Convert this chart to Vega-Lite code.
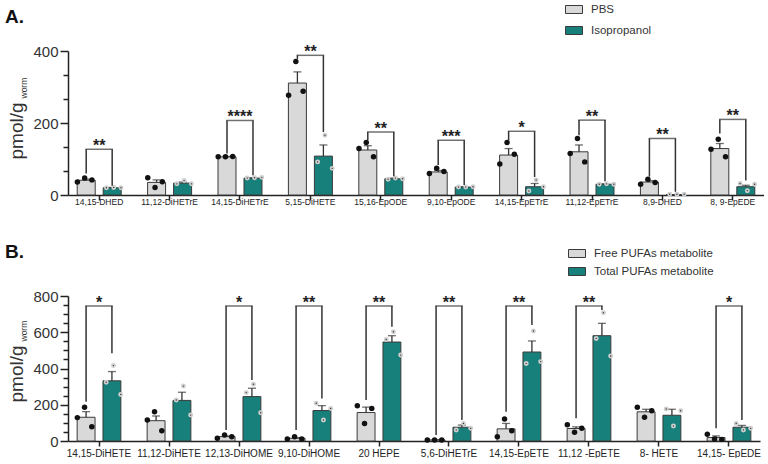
{
"$schema": "https://vega.github.io/schema/vega-lite/v6.json",
"padding": {"left": 5, "top": 0, "right": 0, "bottom": 0},
"config": {"font": "Liberation Sans", "view": {"stroke": null},
  "axis": {"domainColor": "#222", "domainWidth": 1.5, "tickColor": "#222", "tickWidth": 1.5, "labelColor": "#222", "grid": false},
  "title": {"color": "#111"}},
"datasets": {
"barsA": [
{"cat":"14,15-DHED","group":"PBS","mean":41,"err":44},
{"cat":"14,15-DHED","group":"Isopropanol","mean":20,"err":21},
{"cat":"11,12-DiHETrE","group":"PBS","mean":35,"err":42},
{"cat":"11,12-DiHETrE","group":"Isopropanol","mean":33,"err":36},
{"cat":"14,15-DiHETrE","group":"PBS","mean":106,"err":107},
{"cat":"14,15-DiHETrE","group":"Isopropanol","mean":47,"err":48},
{"cat":"5,15-DiHETE","group":"PBS","mean":311,"err":342},
{"cat":"5,15-DiHETE","group":"Isopropanol","mean":108,"err":139},
{"cat":"15,16-EpODE","group":"PBS","mean":125,"err":137},
{"cat":"15,16-EpODE","group":"Isopropanol","mean":45,"err":47},
{"cat":"9,10-EpODE","group":"PBS","mean":64,"err":68},
{"cat":"9,10-EpODE","group":"Isopropanol","mean":22,"err":23},
{"cat":"14,15-EpETrE","group":"PBS","mean":111,"err":129},
{"cat":"14,15-EpETrE","group":"Isopropanol","mean":23,"err":32},
{"cat":"11,12-EpETrE","group":"PBS","mean":120,"err":139},
{"cat":"11,12-EpETrE","group":"Isopropanol","mean":30,"err":31},
{"cat":"8,9-DHED","group":"PBS","mean":36,"err":40},
{"cat":"8,9-DHED","group":"Isopropanol","mean":1,"err":1},
{"cat":"8, 9-EpEDE","group":"PBS","mean":129,"err":143},
{"cat":"8, 9-EpEDE","group":"Isopropanol","mean":23,"err":27}
],
"dotsA": [
{"cat":"14,15-DHED","group":"PBS","sample":"PBS 1","value":36},
{"cat":"14,15-DHED","group":"PBS","sample":"PBS 2","value":47},
{"cat":"14,15-DHED","group":"PBS","sample":"PBS 3","value":42},
{"cat":"14,15-DHED","group":"Isopropanol","sample":"Isopropanol 1","value":20},
{"cat":"14,15-DHED","group":"Isopropanol","sample":"Isopropanol 2","value":21},
{"cat":"14,15-DHED","group":"Isopropanol","sample":"Isopropanol 3","value":20},
{"cat":"11,12-DiHETrE","group":"PBS","sample":"PBS 1","value":48},
{"cat":"11,12-DiHETrE","group":"PBS","sample":"PBS 2","value":21},
{"cat":"11,12-DiHETrE","group":"PBS","sample":"PBS 3","value":37},
{"cat":"11,12-DiHETrE","group":"Isopropanol","sample":"Isopropanol 1","value":31},
{"cat":"11,12-DiHETrE","group":"Isopropanol","sample":"Isopropanol 2","value":40},
{"cat":"11,12-DiHETrE","group":"Isopropanol","sample":"Isopropanol 3","value":31},
{"cat":"14,15-DiHETrE","group":"PBS","sample":"PBS 1","value":106},
{"cat":"14,15-DiHETrE","group":"PBS","sample":"PBS 2","value":106},
{"cat":"14,15-DiHETrE","group":"PBS","sample":"PBS 3","value":107},
{"cat":"14,15-DiHETrE","group":"Isopropanol","sample":"Isopropanol 1","value":47},
{"cat":"14,15-DiHETrE","group":"Isopropanol","sample":"Isopropanol 2","value":48},
{"cat":"14,15-DiHETrE","group":"Isopropanol","sample":"Isopropanol 3","value":49},
{"cat":"5,15-DiHETE","group":"PBS","sample":"PBS 1","value":277},
{"cat":"5,15-DiHETE","group":"PBS","sample":"PBS 2","value":371},
{"cat":"5,15-DiHETE","group":"PBS","sample":"PBS 3","value":288},
{"cat":"5,15-DiHETE","group":"Isopropanol","sample":"Isopropanol 1","value":92},
{"cat":"5,15-DiHETE","group":"Isopropanol","sample":"Isopropanol 2","value":166},
{"cat":"5,15-DiHETE","group":"Isopropanol","sample":"Isopropanol 3","value":74},
{"cat":"15,16-EpODE","group":"PBS","sample":"PBS 1","value":129},
{"cat":"15,16-EpODE","group":"PBS","sample":"PBS 2","value":146},
{"cat":"15,16-EpODE","group":"PBS","sample":"PBS 3","value":106},
{"cat":"15,16-EpODE","group":"Isopropanol","sample":"Isopropanol 1","value":44},
{"cat":"15,16-EpODE","group":"Isopropanol","sample":"Isopropanol 2","value":47},
{"cat":"15,16-EpODE","group":"Isopropanol","sample":"Isopropanol 3","value":45},
{"cat":"9,10-EpODE","group":"PBS","sample":"PBS 1","value":60},
{"cat":"9,10-EpODE","group":"PBS","sample":"PBS 2","value":74},
{"cat":"9,10-EpODE","group":"PBS","sample":"PBS 3","value":65},
{"cat":"9,10-EpODE","group":"Isopropanol","sample":"Isopropanol 1","value":22},
{"cat":"9,10-EpODE","group":"Isopropanol","sample":"Isopropanol 2","value":22},
{"cat":"9,10-EpODE","group":"Isopropanol","sample":"Isopropanol 3","value":23},
{"cat":"14,15-EpETrE","group":"PBS","sample":"PBS 1","value":86},
{"cat":"14,15-EpETrE","group":"PBS","sample":"PBS 2","value":146},
{"cat":"14,15-EpETrE","group":"PBS","sample":"PBS 3","value":113},
{"cat":"14,15-EpETrE","group":"Isopropanol","sample":"Isopropanol 1","value":11},
{"cat":"14,15-EpETrE","group":"Isopropanol","sample":"Isopropanol 2","value":42},
{"cat":"14,15-EpETrE","group":"Isopropanol","sample":"Isopropanol 3","value":23},
{"cat":"11,12-EpETrE","group":"PBS","sample":"PBS 1","value":115},
{"cat":"11,12-EpETrE","group":"PBS","sample":"PBS 2","value":157},
{"cat":"11,12-EpETrE","group":"PBS","sample":"PBS 3","value":92},
{"cat":"11,12-EpETrE","group":"Isopropanol","sample":"Isopropanol 1","value":30},
{"cat":"11,12-EpETrE","group":"Isopropanol","sample":"Isopropanol 2","value":31},
{"cat":"11,12-EpETrE","group":"Isopropanol","sample":"Isopropanol 3","value":30},
{"cat":"8,9-DHED","group":"PBS","sample":"PBS 1","value":30},
{"cat":"8,9-DHED","group":"PBS","sample":"PBS 2","value":44},
{"cat":"8,9-DHED","group":"PBS","sample":"PBS 3","value":35},
{"cat":"8,9-DHED","group":"Isopropanol","sample":"Isopropanol 1","value":2},
{"cat":"8,9-DHED","group":"Isopropanol","sample":"Isopropanol 2","value":2},
{"cat":"8,9-DHED","group":"Isopropanol","sample":"Isopropanol 3","value":2},
{"cat":"8, 9-EpEDE","group":"PBS","sample":"PBS 1","value":127},
{"cat":"8, 9-EpEDE","group":"PBS","sample":"PBS 2","value":155},
{"cat":"8, 9-EpEDE","group":"PBS","sample":"PBS 3","value":106},
{"cat":"8, 9-EpEDE","group":"Isopropanol","sample":"Isopropanol 1","value":32},
{"cat":"8, 9-EpEDE","group":"Isopropanol","sample":"Isopropanol 2","value":12},
{"cat":"8, 9-EpEDE","group":"Isopropanol","sample":"Isopropanol 3","value":30}
],
"legsA": [
{"cat":"14,15-DHED","group":"PBS","from":60,"to":127},
{"cat":"14,15-DHED","group":"Isopropanol","from":26,"to":127},
{"cat":"14,15-DiHETrE","group":"PBS","from":115,"to":207},
{"cat":"14,15-DiHETrE","group":"Isopropanol","from":55,"to":207},
{"cat":"5,15-DiHETE","group":"PBS","from":378,"to":388},
{"cat":"5,15-DiHETE","group":"Isopropanol","from":175,"to":388},
{"cat":"15,16-EpODE","group":"PBS","from":152,"to":175},
{"cat":"15,16-EpODE","group":"Isopropanol","from":52,"to":175},
{"cat":"9,10-EpODE","group":"PBS","from":83,"to":152},
{"cat":"9,10-EpODE","group":"Isopropanol","from":28,"to":152},
{"cat":"14,15-EpETrE","group":"PBS","from":152,"to":177},
{"cat":"14,15-EpETrE","group":"Isopropanol","from":50,"to":177},
{"cat":"11,12-EpETrE","group":"PBS","from":166,"to":208},
{"cat":"11,12-EpETrE","group":"Isopropanol","from":38,"to":208},
{"cat":"8,9-DHED","group":"PBS","from":51,"to":157},
{"cat":"8,9-DHED","group":"Isopropanol","from":9,"to":157},
{"cat":"8, 9-EpEDE","group":"PBS","from":171,"to":210},
{"cat":"8, 9-EpEDE","group":"Isopropanol","from":40,"to":210}
],
"starsA": [
{"cat":"14,15-DHED","top":127,"label":"**"},
{"cat":"14,15-DiHETrE","top":207,"label":"****"},
{"cat":"5,15-DiHETE","top":388,"label":"**"},
{"cat":"15,16-EpODE","top":175,"label":"**"},
{"cat":"9,10-EpODE","top":152,"label":"***"},
{"cat":"14,15-EpETrE","top":177,"label":"*"},
{"cat":"11,12-EpETrE","top":208,"label":"**"},
{"cat":"8,9-DHED","top":157,"label":"**"},
{"cat":"8, 9-EpEDE","top":210,"label":"**"}
],
"barsB": [
{"cat":"14,15-DiHETE","group":"Free PUFAs metabolite","mean":131,"err":162},
{"cat":"14,15-DiHETE","group":"Total PUFAs metabolite","mean":332,"err":383},
{"cat":"11,12-DiHETE","group":"Free PUFAs metabolite","mean":112,"err":138},
{"cat":"11,12-DiHETE","group":"Total PUFAs metabolite","mean":224,"err":269},
{"cat":"12,13-DiHOME","group":"Free PUFAs metabolite","mean":24,"err":28},
{"cat":"12,13-DiHOME","group":"Total PUFAs metabolite","mean":245,"err":291},
{"cat":"9,10-DiHOME","group":"Free PUFAs metabolite","mean":15,"err":19},
{"cat":"9,10-DiHOME","group":"Total PUFAs metabolite","mean":168,"err":195},
{"cat":"20 HEPE","group":"Free PUFAs metabolite","mean":157,"err":187},
{"cat":"20 HEPE","group":"Total PUFAs metabolite","mean":546,"err":581},
{"cat":"5,6-DiHETrE","group":"Free PUFAs metabolite","mean":6,"err":7},
{"cat":"5,6-DiHETrE","group":"Total PUFAs metabolite","mean":76,"err":88},
{"cat":"14,15-EpETE","group":"Free PUFAs metabolite","mean":67,"err":97},
{"cat":"14,15-EpETE","group":"Total PUFAs metabolite","mean":491,"err":552},
{"cat":"11,12 -EpETE","group":"Free PUFAs metabolite","mean":69,"err":78},
{"cat":"11,12 -EpETE","group":"Total PUFAs metabolite","mean":581,"err":649},
{"cat":"8- HETE","group":"Free PUFAs metabolite","mean":161,"err":175},
{"cat":"8- HETE","group":"Total PUFAs metabolite","mean":142,"err":175},
{"cat":"14,15- EpEDE","group":"Free PUFAs metabolite","mean":19,"err":28},
{"cat":"14,15- EpEDE","group":"Total PUFAs metabolite","mean":76,"err":86}
],
"dotsB": [
{"cat":"14,15-DiHETE","group":"Free PUFAs metabolite","sample":"Free 1","value":129},
{"cat":"14,15-DiHETE","group":"Free PUFAs metabolite","sample":"Free 2","value":186},
{"cat":"14,15-DiHETE","group":"Free PUFAs metabolite","sample":"Free 3","value":79},
{"cat":"14,15-DiHETE","group":"Total PUFAs metabolite","sample":"Total 1","value":324},
{"cat":"14,15-DiHETE","group":"Total PUFAs metabolite","sample":"Total 2","value":416},
{"cat":"14,15-DiHETE","group":"Total PUFAs metabolite","sample":"Total 3","value":257},
{"cat":"11,12-DiHETE","group":"Free PUFAs metabolite","sample":"Free 1","value":116},
{"cat":"11,12-DiHETE","group":"Free PUFAs metabolite","sample":"Free 2","value":162},
{"cat":"11,12-DiHETE","group":"Free PUFAs metabolite","sample":"Free 3","value":57},
{"cat":"11,12-DiHETE","group":"Total PUFAs metabolite","sample":"Total 1","value":226},
{"cat":"11,12-DiHETE","group":"Total PUFAs metabolite","sample":"Total 2","value":303},
{"cat":"11,12-DiHETE","group":"Total PUFAs metabolite","sample":"Total 3","value":143},
{"cat":"12,13-DiHOME","group":"Free PUFAs metabolite","sample":"Free 1","value":15},
{"cat":"12,13-DiHOME","group":"Free PUFAs metabolite","sample":"Free 2","value":33},
{"cat":"12,13-DiHOME","group":"Free PUFAs metabolite","sample":"Free 3","value":24},
{"cat":"12,13-DiHOME","group":"Total PUFAs metabolite","sample":"Total 1","value":267},
{"cat":"12,13-DiHOME","group":"Total PUFAs metabolite","sample":"Total 2","value":313},
{"cat":"12,13-DiHOME","group":"Total PUFAs metabolite","sample":"Total 3","value":156},
{"cat":"9,10-DiHOME","group":"Free PUFAs metabolite","sample":"Free 1","value":11},
{"cat":"9,10-DiHOME","group":"Free PUFAs metabolite","sample":"Free 2","value":24},
{"cat":"9,10-DiHOME","group":"Free PUFAs metabolite","sample":"Free 3","value":11},
{"cat":"9,10-DiHOME","group":"Total PUFAs metabolite","sample":"Total 1","value":208},
{"cat":"9,10-DiHOME","group":"Total PUFAs metabolite","sample":"Total 2","value":116},
{"cat":"9,10-DiHOME","group":"Total PUFAs metabolite","sample":"Total 3","value":180},
{"cat":"20 HEPE","group":"Free PUFAs metabolite","sample":"Free 1","value":195},
{"cat":"20 HEPE","group":"Free PUFAs metabolite","sample":"Free 2","value":97},
{"cat":"20 HEPE","group":"Free PUFAs metabolite","sample":"Free 3","value":180},
{"cat":"20 HEPE","group":"Total PUFAs metabolite","sample":"Total 1","value":560},
{"cat":"20 HEPE","group":"Total PUFAs metabolite","sample":"Total 2","value":603},
{"cat":"20 HEPE","group":"Total PUFAs metabolite","sample":"Total 3","value":474},
{"cat":"5,6-DiHETrE","group":"Free PUFAs metabolite","sample":"Free 1","value":6},
{"cat":"5,6-DiHETrE","group":"Free PUFAs metabolite","sample":"Free 2","value":6},
{"cat":"5,6-DiHETrE","group":"Free PUFAs metabolite","sample":"Free 3","value":6},
{"cat":"5,6-DiHETrE","group":"Total PUFAs metabolite","sample":"Total 1","value":61},
{"cat":"5,6-DiHETrE","group":"Total PUFAs metabolite","sample":"Total 2","value":97},
{"cat":"5,6-DiHETrE","group":"Total PUFAs metabolite","sample":"Total 3","value":70},
{"cat":"14,15-EpETE","group":"Free PUFAs metabolite","sample":"Free 1","value":24},
{"cat":"14,15-EpETE","group":"Free PUFAs metabolite","sample":"Free 2","value":121},
{"cat":"14,15-EpETE","group":"Free PUFAs metabolite","sample":"Free 3","value":57},
{"cat":"14,15-EpETE","group":"Total PUFAs metabolite","sample":"Total 1","value":428},
{"cat":"14,15-EpETE","group":"Total PUFAs metabolite","sample":"Total 2","value":607},
{"cat":"14,15-EpETE","group":"Total PUFAs metabolite","sample":"Total 3","value":438},
{"cat":"11,12 -EpETE","group":"Free PUFAs metabolite","sample":"Free 1","value":90},
{"cat":"11,12 -EpETE","group":"Free PUFAs metabolite","sample":"Free 2","value":48},
{"cat":"11,12 -EpETE","group":"Free PUFAs metabolite","sample":"Free 3","value":70},
{"cat":"11,12 -EpETE","group":"Total PUFAs metabolite","sample":"Total 1","value":566},
{"cat":"11,12 -EpETE","group":"Total PUFAs metabolite","sample":"Total 2","value":708},
{"cat":"11,12 -EpETE","group":"Total PUFAs metabolite","sample":"Total 3","value":469},
{"cat":"8- HETE","group":"Free PUFAs metabolite","sample":"Free 1","value":186},
{"cat":"8- HETE","group":"Free PUFAs metabolite","sample":"Free 2","value":131},
{"cat":"8- HETE","group":"Free PUFAs metabolite","sample":"Free 3","value":167},
{"cat":"8- HETE","group":"Total PUFAs metabolite","sample":"Total 1","value":177},
{"cat":"8- HETE","group":"Total PUFAs metabolite","sample":"Total 2","value":83},
{"cat":"8- HETE","group":"Total PUFAs metabolite","sample":"Total 3","value":167},
{"cat":"14,15- EpEDE","group":"Free PUFAs metabolite","sample":"Free 1","value":37},
{"cat":"14,15- EpEDE","group":"Free PUFAs metabolite","sample":"Free 2","value":11},
{"cat":"14,15- EpEDE","group":"Free PUFAs metabolite","sample":"Free 3","value":9},
{"cat":"14,15- EpEDE","group":"Total PUFAs metabolite","sample":"Total 1","value":97},
{"cat":"14,15- EpEDE","group":"Total PUFAs metabolite","sample":"Total 2","value":61},
{"cat":"14,15- EpEDE","group":"Total PUFAs metabolite","sample":"Total 3","value":70}
],
"legsB": [
{"cat":"14,15-DiHETE","group":"Free PUFAs metabolite","from":217,"to":745},
{"cat":"14,15-DiHETE","group":"Total PUFAs metabolite","from":484,"to":745},
{"cat":"12,13-DiHOME","group":"Free PUFAs metabolite","from":61,"to":745},
{"cat":"12,13-DiHOME","group":"Total PUFAs metabolite","from":337,"to":745},
{"cat":"9,10-DiHOME","group":"Free PUFAs metabolite","from":61,"to":745},
{"cat":"9,10-DiHOME","group":"Total PUFAs metabolite","from":235,"to":745},
{"cat":"20 HEPE","group":"Free PUFAs metabolite","from":226,"to":745},
{"cat":"20 HEPE","group":"Total PUFAs metabolite","from":631,"to":745},
{"cat":"5,6-DiHETrE","group":"Free PUFAs metabolite","from":33,"to":745},
{"cat":"5,6-DiHETrE","group":"Total PUFAs metabolite","from":116,"to":745},
{"cat":"14,15-EpETE","group":"Free PUFAs metabolite","from":162,"to":745},
{"cat":"14,15-EpETE","group":"Total PUFAs metabolite","from":640,"to":745},
{"cat":"11,12 -EpETE","group":"Free PUFAs metabolite","from":125,"to":745},
{"cat":"11,12 -EpETE","group":"Total PUFAs metabolite","from":723,"to":745},
{"cat":"14,15- EpEDE","group":"Free PUFAs metabolite","from":70,"to":745},
{"cat":"14,15- EpEDE","group":"Total PUFAs metabolite","from":116,"to":745}
],
"starsB": [
{"cat":"14,15-DiHETE","top":745,"label":"*"},
{"cat":"12,13-DiHOME","top":745,"label":"*"},
{"cat":"9,10-DiHOME","top":745,"label":"**"},
{"cat":"20 HEPE","top":745,"label":"**"},
{"cat":"5,6-DiHETrE","top":745,"label":"**"},
{"cat":"14,15-EpETE","top":745,"label":"**"},
{"cat":"11,12 -EpETE","top":745,"label":"**"},
{"cat":"14,15- EpEDE","top":745,"label":"*"}
]
},
"spacing": 36,
"resolve": {"scale": {"x": "independent", "y": "independent", "xOffset": "independent", "color": "independent"}},
"vconcat": [
{
"width": 696, "height": 144,
"title": {"text": "A.", "anchor": "start", "frame": "group", "fontSize": 19, "fontWeight": "bold", "dx": -63, "offset": -26},
"encoding": {"x": {"field": "cat", "type": "nominal", "title": null,
  "scale": {"domain": ["14,15-DHED","11,12-DiHETrE","14,15-DiHETrE","5,15-DiHETE","15,16-EpODE","9,10-EpODE","14,15-EpETrE","11,12-EpETrE","8,9-DHED","8, 9-EpEDE"], "paddingInner": 0.3, "paddingOuter": 0.093},
  "axis": {"labelFontSize": 8.5, "labelAngle": 0, "labelOverlap": false, "labelLimit": 0, "tickSize": 5, "labelPadding": -3}}},
"resolve": {"scale": {"xOffset": "independent"}, "axis": {"y": "independent"}},
"layer": [
{"data": {"name": "barsA"}, "mark": {"type": "bar", "stroke": "#3a3a3a", "strokeWidth": 1},
 "encoding": {
  "xOffset": {"field": "group", "scale": {"domain": ["PBS","Isopropanol"], "paddingInner": 0.3077, "paddingOuter": 0.102}},
  "y": {"field": "mean", "type": "quantitative", "scale": {"domain": [0,400], "nice": false},
    "axis": {"values": [0,66.667,133.333,200,266.667,333.333,400], "labelExpr": "datum.value % 200 == 0 ? format(datum.value, 'd') : ''",
      "tickSize": {"condition": {"test": "datum.value % 200 == 0", "value": 8}, "value": 5},
      "labelFontSize": 15, "labelColor": "#333", "labelPadding": 2,
      "title": "pmol/g", "titleFontSize": 19, "titleFontWeight": "normal", "titleColor": "#333", "titleAngle": -90, "titleAlign": "left", "titleBaseline": "alphabetic", "titleX": -46, "titleY": 108}},
  "color": {"field": "group", "type": "nominal", "scale": {"domain": ["PBS","Isopropanol"], "range": ["#d9d9d9","#17807b"]},
    "legend": {"orient": "none", "legendX": 497, "legendY": -50.5, "title": null, "symbolType": "M-1,-0.47H1V0.47H-1Z", "symbolSize": 289, "symbolStrokeColor": "#3a3a3a", "symbolStrokeWidth": 1, "symbolOpacity": 1, "labelFontSize": 11.5, "labelColor": "#333", "labelOffset": 8, "rowPadding": 6, "padding": 0}}
 }},
{"data": {"name": "barsA"}, "mark": {"type": "rule", "color": "#333", "strokeWidth": 1.3},
 "encoding": {
  "xOffset": {"field": "group", "scale": {"domain": ["PBS","Isopropanol"], "paddingInner": 0.3077, "paddingOuter": 0.102}},
  "y": {"field": "mean", "type": "quantitative", "scale": {"domain": [0,400], "nice": false},
    "axis": {"orient": "left", "domain": false, "ticks": false, "labels": false, "grid": false, "title": "worm", "titleFontSize": 8.5, "titleFontWeight": "normal", "titleColor": "#333", "titleAngle": -90, "titleAlign": "left", "titleBaseline": "alphabetic", "titleX": -42, "titleY": 47}},
  "y2": {"field": "err"}
 }},
{"data": {"name": "barsA"}, "mark": {"type": "tick", "color": "#333", "size": 8, "thickness": 1.3},
 "encoding": {
  "xOffset": {"field": "group", "scale": {"domain": ["PBS","Isopropanol"], "paddingInner": 0.3077, "paddingOuter": 0.102}},
  "y": {"field": "err", "type": "quantitative", "scale": {"domain": [0,400], "nice": false}, "axis": null}
 }},
{"data": {"name": "dotsA"}, "mark": {"type": "point", "shape": "circle", "filled": true, "opacity": 1},
 "encoding": {
  "xOffset": {"field": "sample", "scale": {"domain": ["PBS 1","PBS 2","PBS 3","","Isopropanol 1","Isopropanol 2","Isopropanol 3"], "paddingInner": 0, "paddingOuter": 0.39}},
  "y": {"field": "value", "type": "quantitative", "scale": {"domain": [0,400], "nice": false}, "axis": null},
  "fill": {"condition": {"test": "datum.group == 'PBS'", "value": "#111"}, "value": "#333"},
  "stroke": {"condition": {"test": "datum.group == 'PBS'", "value": "#111"}, "value": "#cfcfcf"},
  "strokeWidth": {"condition": {"test": "datum.group == 'PBS'", "value": 0}, "value": 1.8},
  "size": {"condition": {"test": "datum.group == 'PBS'", "value": 30}, "value": 10}
 }},
{"data": {"name": "legsA"}, "mark": {"type": "rule", "color": "#333", "strokeWidth": 1.5},
 "encoding": {
  "xOffset": {"field": "group", "scale": {"domain": ["PBS","Isopropanol"], "paddingInner": 0.3077, "paddingOuter": 0.102}},
  "y": {"field": "from", "type": "quantitative", "scale": {"domain": [0,400], "nice": false}, "axis": null},
  "y2": {"field": "to"}
 }},
{"data": {"name": "starsA"}, "mark": {"type": "tick", "color": "#333", "size": 27.5, "thickness": 1.5},
 "encoding": {
  "y": {"field": "top", "type": "quantitative", "scale": {"domain": [0,400], "nice": false}, "axis": null}
 }},
{"data": {"name": "starsA"}, "mark": {"type": "text", "fontSize": 16, "fontWeight": "bold", "color": "#222", "baseline": "alphabetic", "dy": 2},
 "encoding": {
  "y": {"field": "top", "type": "quantitative", "scale": {"domain": [0,400], "nice": false}, "axis": null},
  "text": {"field": "label"}
 }}
]
},
{
"width": 692, "height": 145,
"title": {"text": "B.", "anchor": "start", "frame": "group", "fontSize": 19, "fontWeight": "bold", "dx": -63, "offset": -17},
"encoding": {"x": {"field": "cat", "type": "nominal", "title": null,
  "scale": {"domain": ["14,15-DiHETE","11,12-DiHETE","12,13-DiHOME","9,10-DiHOME","20 HEPE","5,6-DiHETrE","14,15-EpETE","11,12 -EpETE","8- HETE","14,15- EpEDE"], "paddingInner": 0.3, "paddingOuter": 0.093},
  "axis": {"labelFontSize": 10, "labelAngle": 0, "labelOverlap": false, "labelLimit": 0, "tickSize": 5, "labelPadding": 2}}},
"resolve": {"scale": {"xOffset": "independent"}, "axis": {"y": "independent"}},
"layer": [
{"data": {"name": "barsB"}, "mark": {"type": "bar", "stroke": "#3a3a3a", "strokeWidth": 1},
 "encoding": {
  "xOffset": {"field": "group", "scale": {"domain": ["Free PUFAs metabolite","Total PUFAs metabolite"], "paddingInner": 0.3077, "paddingOuter": 0.102}},
  "y": {"field": "mean", "type": "quantitative", "scale": {"domain": [0,800], "nice": false},
    "axis": {"values": [0,50,100,150,200,250,300,350,400,450,500,550,600,650,700,750,800], "labelExpr": "datum.value % 200 == 0 ? format(datum.value, 'd') : ''",
      "tickSize": {"condition": {"test": "datum.value % 200 == 0", "value": 8}, "value": 5},
      "labelFontSize": 15, "labelColor": "#333", "labelPadding": 2,
      "title": "pmol/g", "titleFontSize": 19, "titleFontWeight": "normal", "titleColor": "#333", "titleAngle": -90, "titleAlign": "left", "titleBaseline": "alphabetic", "titleX": -46, "titleY": 106}},
  "color": {"field": "group", "type": "nominal", "scale": {"domain": ["Free PUFAs metabolite","Total PUFAs metabolite"], "range": ["#d9d9d9","#17807b"]},
    "legend": {"orient": "none", "legendX": 500, "legendY": -51.5, "title": null, "symbolType": "M-1,-0.47H1V0.47H-1Z", "symbolSize": 289, "symbolStrokeColor": "#3a3a3a", "symbolStrokeWidth": 1, "symbolOpacity": 1, "labelFontSize": 11.5, "labelColor": "#333", "labelOffset": 8, "rowPadding": 3, "padding": 0}}
 }},
{"data": {"name": "barsB"}, "mark": {"type": "rule", "color": "#333", "strokeWidth": 1.3},
 "encoding": {
  "xOffset": {"field": "group", "scale": {"domain": ["Free PUFAs metabolite","Total PUFAs metabolite"], "paddingInner": 0.3077, "paddingOuter": 0.102}},
  "y": {"field": "mean", "type": "quantitative", "scale": {"domain": [0,800], "nice": false},
    "axis": {"orient": "left", "domain": false, "ticks": false, "labels": false, "grid": false, "title": "worm", "titleFontSize": 8.5, "titleFontWeight": "normal", "titleColor": "#333", "titleAngle": -90, "titleAlign": "left", "titleBaseline": "alphabetic", "titleX": -42, "titleY": 45}},
  "y2": {"field": "err"}
 }},
{"data": {"name": "barsB"}, "mark": {"type": "tick", "color": "#333", "size": 8, "thickness": 1.3},
 "encoding": {
  "xOffset": {"field": "group", "scale": {"domain": ["Free PUFAs metabolite","Total PUFAs metabolite"], "paddingInner": 0.3077, "paddingOuter": 0.102}},
  "y": {"field": "err", "type": "quantitative", "scale": {"domain": [0,800], "nice": false}, "axis": null}
 }},
{"data": {"name": "dotsB"}, "mark": {"type": "point", "shape": "circle", "filled": true, "opacity": 1},
 "encoding": {
  "xOffset": {"field": "sample", "scale": {"domain": ["Free 1","Free 2","Free 3","","Total 1","Total 2","Total 3"], "paddingInner": 0, "paddingOuter": 0.39}},
  "y": {"field": "value", "type": "quantitative", "scale": {"domain": [0,800], "nice": false}, "axis": null},
  "fill": {"condition": {"test": "datum.group == 'Free PUFAs metabolite'", "value": "#111"}, "value": "#333"},
  "stroke": {"condition": {"test": "datum.group == 'Free PUFAs metabolite'", "value": "#111"}, "value": "#cfcfcf"},
  "strokeWidth": {"condition": {"test": "datum.group == 'Free PUFAs metabolite'", "value": 0}, "value": 1.8},
  "size": {"condition": {"test": "datum.group == 'Free PUFAs metabolite'", "value": 30}, "value": 10}
 }},
{"data": {"name": "legsB"}, "mark": {"type": "rule", "color": "#333", "strokeWidth": 1.5},
 "encoding": {
  "xOffset": {"field": "group", "scale": {"domain": ["Free PUFAs metabolite","Total PUFAs metabolite"], "paddingInner": 0.3077, "paddingOuter": 0.102}},
  "y": {"field": "from", "type": "quantitative", "scale": {"domain": [0,800], "nice": false}, "axis": null},
  "y2": {"field": "to"}
 }},
{"data": {"name": "starsB"}, "mark": {"type": "tick", "color": "#333", "size": 27.5, "thickness": 1.5},
 "encoding": {
  "y": {"field": "top", "type": "quantitative", "scale": {"domain": [0,800], "nice": false}, "axis": null}
 }},
{"data": {"name": "starsB"}, "mark": {"type": "text", "fontSize": 16, "fontWeight": "bold", "color": "#222", "baseline": "alphabetic", "dy": 2},
 "encoding": {
  "y": {"field": "top", "type": "quantitative", "scale": {"domain": [0,800], "nice": false}, "axis": null},
  "text": {"field": "label"}
 }}
]
}
]
}
